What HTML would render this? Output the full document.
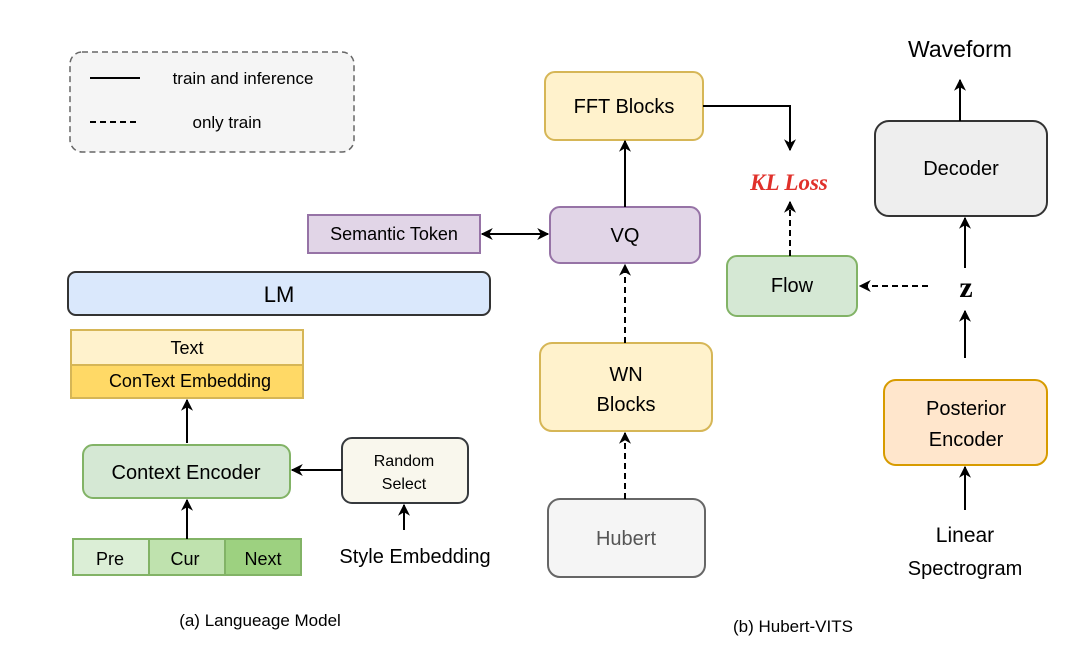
<!DOCTYPE html>
<html><head><meta charset="utf-8"><style>body{margin:0;background:#fff}svg{display:block}text{font-family:"Liberation Sans",sans-serif}text.s{font-family:"Liberation Serif",serif;font-weight:bold}</style></head>
<body>
<svg width="1078" height="660" viewBox="0 0 1078 660" xmlns="http://www.w3.org/2000/svg">
<defs><marker id="a" viewBox="0 0 10 10" refX="9" refY="5" markerWidth="6" markerHeight="6" orient="auto-start-reverse"><path d="M0,0 L10,5 L0,10 L3,5 z" fill="#000"/></marker></defs>
<g stroke="#000" stroke-width="2" fill="none">
<rect x="70" y="52" width="284" height="100" rx="12" fill="#f5f5f5" stroke="#666" stroke-dasharray="6,4" stroke-width="1.5"/>
<line x1="90" y1="78" x2="140" y2="78"/>
<line x1="90" y1="122" x2="140" y2="122" stroke-dasharray="6,4"/>
<rect x="545" y="72" width="158" height="68" rx="10" fill="#fff2cc" stroke="#d6b656"/>
<rect x="550" y="207" width="150" height="56" rx="10" fill="#e1d5e7" stroke="#9673a6"/>
<rect x="308" y="215" width="172" height="38" fill="#e1d5e7" stroke="#9673a6"/>
<rect x="540" y="343" width="172" height="88" rx="12" fill="#fff2cc" stroke="#d6b656"/>
<rect x="548" y="499" width="157" height="78" rx="12" fill="#f5f5f5" stroke="#666"/>
<rect x="727" y="256" width="130" height="60" rx="10" fill="#d5e8d4" stroke="#82b366"/>
<rect x="875" y="121" width="172" height="95" rx="14" fill="#eeeeee" stroke="#333"/>
<rect x="884" y="380" width="163" height="85" rx="12" fill="#ffe6cc" stroke="#d79b00"/>
<rect x="68" y="272" width="422" height="43" rx="8" fill="#dae8fc" stroke="#333"/>
<rect x="71" y="330" width="232" height="35" fill="#fff2cc" stroke="#d6b656"/>
<rect x="71" y="365" width="232" height="33" fill="#ffd966" stroke="#d6b656"/>
<rect x="83" y="445" width="207" height="53" rx="10" fill="#d5e8d4" stroke="#82b366"/>
<rect x="73" y="539" width="76" height="36" fill="#dbeed6" stroke="#82b366"/>
<rect x="149" y="539" width="76" height="36" fill="#bfe2ae" stroke="#82b366"/>
<rect x="225" y="539" width="76" height="36" fill="#9dd180" stroke="#82b366"/>
<rect x="342" y="438" width="126" height="65" rx="10" fill="#f9f7ed" stroke="#36393d"/>
<polyline points="703,106 790,106 790,150" marker-end="url(#a)"/>
<line x1="625" y1="207" x2="625" y2="141" marker-end="url(#a)"/>
<line x1="482" y1="234" x2="548" y2="234" marker-start="url(#a)" marker-end="url(#a)"/>
<line x1="625" y1="343" x2="625" y2="265" stroke-dasharray="6,4" marker-end="url(#a)"/>
<line x1="625" y1="499" x2="625" y2="433" stroke-dasharray="6,4" marker-end="url(#a)"/>
<line x1="790" y1="256" x2="790" y2="202" stroke-dasharray="6,4" marker-end="url(#a)"/>
<line x1="960" y1="121" x2="960" y2="80" marker-end="url(#a)"/>
<line x1="965" y1="268" x2="965" y2="218" marker-end="url(#a)"/>
<line x1="928" y1="286" x2="860" y2="286" stroke-dasharray="6,4" marker-end="url(#a)"/>
<line x1="965" y1="358" x2="965" y2="311" marker-end="url(#a)"/>
<line x1="965" y1="510" x2="965" y2="467" marker-end="url(#a)"/>
<line x1="187" y1="443" x2="187" y2="400" marker-end="url(#a)"/>
<line x1="187" y1="539" x2="187" y2="500" marker-end="url(#a)"/>
<line x1="342" y1="470" x2="292" y2="470" marker-end="url(#a)"/>
<line x1="404" y1="530" x2="404" y2="505" marker-end="url(#a)"/>
</g>
<g fill="#000" text-anchor="middle">
<text x="243" y="84" font-size="17">train and inference</text>
<text x="227" y="128" font-size="17">only train</text>
<text x="624" y="113" font-size="20">FFT Blocks</text>
<text x="625" y="242" font-size="20">VQ</text>
<text x="394" y="240" font-size="18">Semantic Token</text>
<text x="626" y="381" font-size="20">WN</text>
<text x="626" y="411" font-size="20">Blocks</text>
<text x="626" y="545" font-size="20" fill="#555">Hubert</text>
<text x="792" y="292" font-size="20">Flow</text>
<text class="s" x="789" y="190" font-size="23" font-style="italic" fill="#e0302a">KL Loss</text>
<text x="961" y="175" font-size="20">Decoder</text>
<text x="960" y="57" font-size="23">Waveform</text>
<text class="s" x="966" y="297" font-size="30">z</text>
<text x="966" y="415" font-size="20">Posterior</text>
<text x="966" y="446" font-size="20">Encoder</text>
<text x="965" y="542" font-size="21">Linear</text>
<text x="965" y="575" font-size="20">Spectrogram</text>
<text x="279" y="302" font-size="22">LM</text>
<text x="187" y="354" font-size="18">Text</text>
<text x="190" y="387" font-size="18">ConText Embedding</text>
<text x="186" y="479" font-size="20">Context Encoder</text>
<text x="110" y="565" font-size="18">Pre</text>
<text x="185" y="565" font-size="18">Cur</text>
<text x="263" y="565" font-size="18">Next</text>
<text x="404" y="466" font-size="16">Random</text>
<text x="404" y="489" font-size="16">Select</text>
<text x="415" y="563" font-size="20">Style Embedding</text>
<text x="260" y="626" font-size="17">(a) Langueage Model</text>
<text x="793" y="632" font-size="17">(b) Hubert-VITS</text>
</g>
</svg>
</body></html>
